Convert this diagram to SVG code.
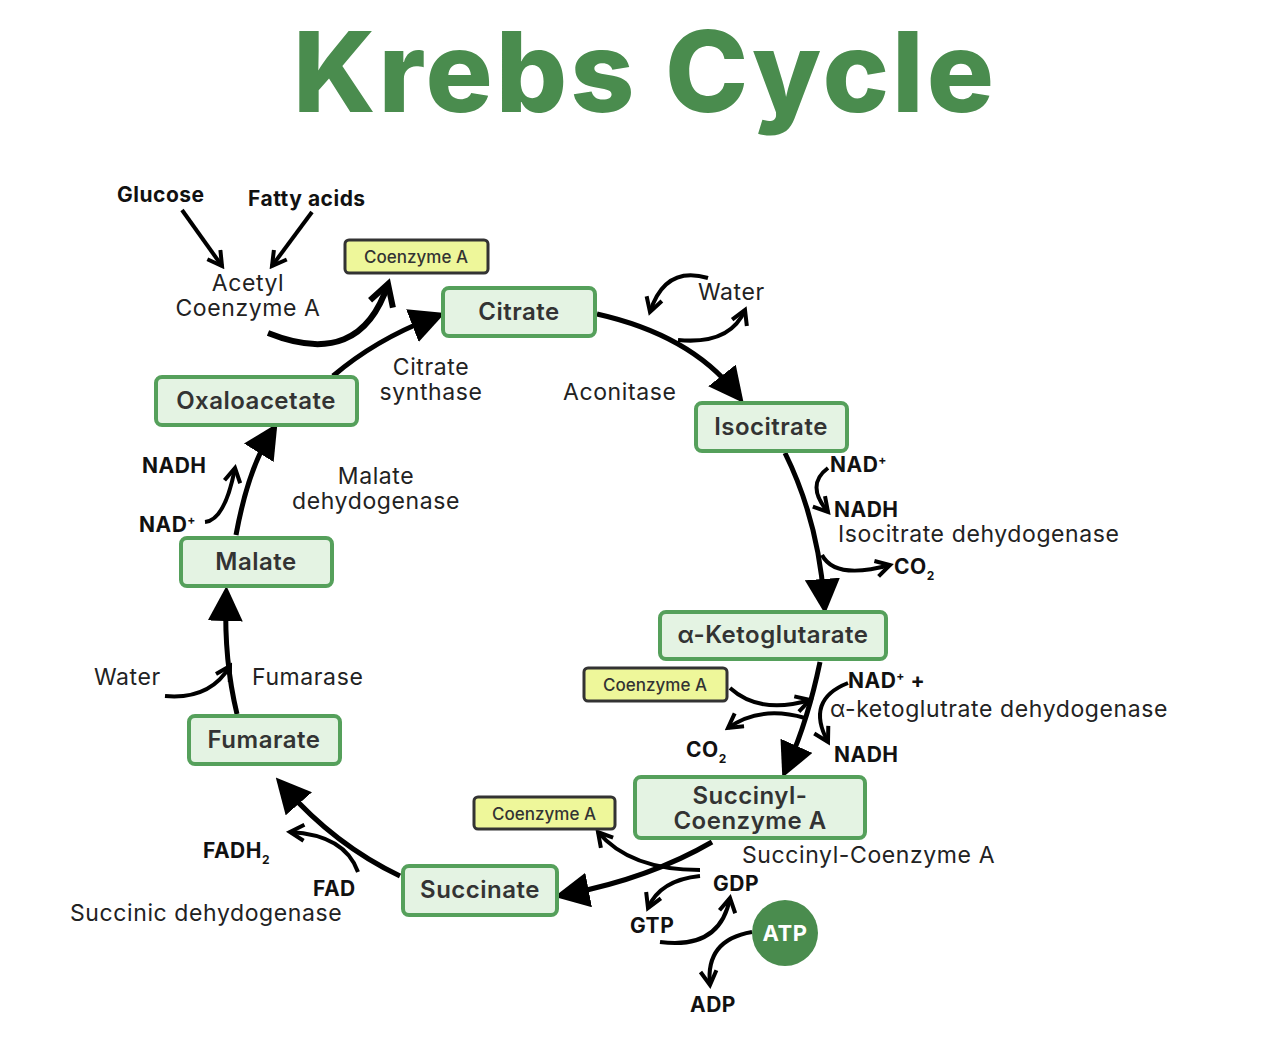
<svg xmlns="http://www.w3.org/2000/svg" width="1280" height="1062" viewBox="0 0 1280 1062">
<style>
text{font-family:Inter,"Noto Sans","Liberation Sans",sans-serif;fill:#111}
.t{font-size:112px;font-weight:800;fill:#4a8c4e;letter-spacing:3px}
.n rect{fill:#e4f3e3;stroke:#55a05b;stroke-width:4}
.n text{font-size:24px;font-weight:600;fill:#333;text-anchor:middle;letter-spacing:0.5px}
.y rect{fill:#eef79a;stroke:#333;stroke-width:3}
.y text{font-size:17px;font-weight:500;fill:#333;text-anchor:middle}
.b{font-size:21px;font-weight:700;letter-spacing:0.5px}
.l{font-size:23px;fill:#222;letter-spacing:0.6px}
.main{fill:none;stroke:#000;stroke-width:5;marker-end:url(#tri)}
.side{fill:none;stroke:#000;stroke-width:4;marker-end:url(#chev)}
</style>
<defs>
<marker id="tri" viewBox="0 0 10 10" refX="6" refY="5" markerWidth="7" markerHeight="7" orient="auto" markerUnits="strokeWidth"><path d="M0,0L10,5L0,10z" fill="#000"/></marker>
<marker id="chev" viewBox="0 0 10 10" refX="8" refY="5" markerWidth="5" markerHeight="5" orient="auto" markerUnits="strokeWidth"><path d="M1,1L8,5L1,9" fill="none" stroke="#000" stroke-width="2"/></marker>
</defs>
<text class="t" x="645" y="112" text-anchor="middle">Krebs Cycle</text>
<g id="connectors">
<path class="main" d="M597,314 Q690,335 735,392"/>
<path class="main" d="M785,453 Q818,520 824,600"/>
<path class="main" d="M820,662 Q808,720 788,765"/>
<path class="main" d="M712,842 Q650,878 568,894"/>
<path class="main" d="M400,876 Q335,845 285,788"/>
<path class="main" d="M237,714 Q224,660 226,600"/>
<path class="main" d="M236,535 Q248,470 270,435"/>
<path class="main" d="M333,376 Q375,340 432,318"/>
<path class="side" d="M182,210 L222,266"/>
<path class="side" d="M312,212 L272,266"/>
<path class="side" d="M268,333 Q360,370 388,284" style="stroke-width:6"/>
<path class="side" d="M708,278 Q665,265 650,312"/>
<path class="side" d="M678,340 Q730,345 745,310"/>
<path class="side" d="M828,468 Q805,485 828,512"/>
<path class="side" d="M822,555 Q835,580 890,565"/>
<path class="side" d="M730,688 Q760,715 810,700"/>
<path class="side" d="M805,718 Q760,705 728,728"/>
<path class="side" d="M848,683 Q805,700 828,742"/>
<path class="side" d="M700,870 Q630,870 598,832"/>
<path class="side" d="M700,876 Q660,880 648,908"/>
<path class="side" d="M660,942 Q720,950 730,898"/>
<path class="side" d="M752,932 Q705,940 710,985"/>
<path class="side" d="M358,872 Q345,835 290,832"/>
<path class="side" d="M165,696 Q210,700 230,666"/>
<path class="side" d="M205,522 Q225,520 235,468"/>
</g>
<g id="citrate" class="n"><rect x="443" y="288" width="152" height="48" rx="6"/><text x="519" y="320">Citrate</text></g>
<g id="isocitrate" class="n"><rect x="696" y="403" width="151" height="48" rx="6"/><text x="771" y="435">Isocitrate</text></g>
<g id="aketoglutarate" class="n"><rect x="660" y="612" width="226" height="47" rx="6"/><text x="773" y="643">α-Ketoglutarate</text></g>
<g id="succinylcoa" class="n"><rect x="635" y="777" width="230" height="61" rx="6"/><text x="750" y="804">Succinyl-</text><text x="750" y="829">Coenzyme A</text></g>
<g id="succinate" class="n"><rect x="403" y="866" width="154" height="49" rx="6"/><text x="480" y="898">Succinate</text></g>
<g id="fumarate" class="n"><rect x="189" y="716" width="151" height="48" rx="6"/><text x="264" y="748">Fumarate</text></g>
<g id="malate" class="n"><rect x="181" y="538" width="151" height="48" rx="6"/><text x="256" y="570">Malate</text></g>
<g id="oxaloacetate" class="n"><rect x="156" y="377" width="201" height="48" rx="6"/><text x="256" y="409">Oxaloacetate</text></g>
<g id="coa1" class="y"><rect x="345" y="240" width="143" height="33" rx="4"/><text x="416" y="263">Coenzyme A</text></g>
<g id="coa2" class="y"><rect x="584" y="668" width="143" height="33" rx="4"/><text x="655" y="691">Coenzyme A</text></g>
<g id="coa3" class="y"><rect x="474" y="797" width="141" height="32" rx="4"/><text x="544" y="820">Coenzyme A</text></g>
<g id="atp"><circle cx="785" cy="933" r="33" fill="#4a8c4e"/><text x="785" y="941" text-anchor="middle" class="b" style="fill:#fff;font-size:22px">ATP</text></g>
<g id="labels">
<text class="b" x="117" y="202">Glucose</text>
<text class="b" x="248" y="206">Fatty acids</text>
<text class="l" x="248" y="291" text-anchor="middle">Acetyl</text>
<text class="l" x="248" y="316" text-anchor="middle">Coenzyme A</text>
<text class="l" x="431" y="375" text-anchor="middle">Citrate</text>
<text class="l" x="431" y="400" text-anchor="middle">synthase</text>
<text class="l" x="698" y="300">Water</text>
<text class="l" x="563" y="400">Aconitase</text>
<text class="b" x="830" y="472">NAD<tspan font-size="12" dy="-8">+</tspan></text>
<text class="b" x="834" y="517">NADH</text>
<text class="l" x="838" y="542">Isocitrate dehydogenase</text>
<text class="b" x="894" y="574">CO<tspan font-size="12" dy="6">2</tspan></text>
<text class="b" x="848" y="688">NAD<tspan font-size="12" dy="-8">+</tspan><tspan dy="8"> +</tspan></text>
<text class="l" x="830" y="717">α-ketoglutrate dehydogenase</text>
<text class="b" x="686" y="757">CO<tspan font-size="12" dy="6">2</tspan></text>
<text class="b" x="834" y="762">NADH</text>
<text class="l" x="742" y="863">Succinyl-Coenzyme A</text>
<text class="b" x="713" y="891">GDP</text>
<text class="b" x="630" y="933">GTP</text>
<text class="b" x="690" y="1012">ADP</text>
<text class="b" x="203" y="858">FADH<tspan font-size="12" dy="6">2</tspan></text>
<text class="b" x="313" y="896">FAD</text>
<text class="l" x="70" y="921">Succinic dehydogenase</text>
<text class="l" x="94" y="685">Water</text>
<text class="l" x="252" y="685">Fumarase</text>
<text class="b" x="142" y="473">NADH</text>
<text class="b" x="139" y="532">NAD<tspan font-size="12" dy="-8">+</tspan></text>
<text class="l" x="376" y="484" text-anchor="middle">Malate</text>
<text class="l" x="376" y="509" text-anchor="middle">dehydogenase</text>
</g>
</svg>
